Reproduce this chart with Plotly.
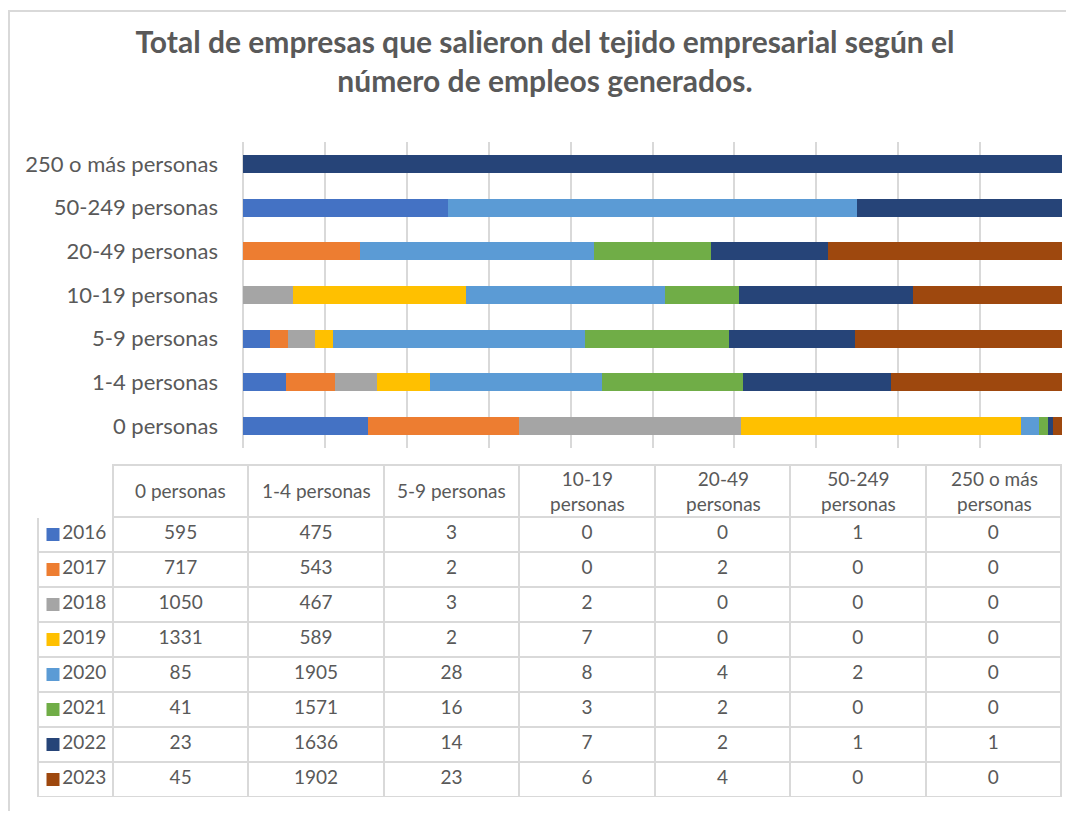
import plotly.graph_objects as go

# the page body adds an 8px margin, so reference pixels are mapped through fx/fy
W, H = 1058, 803


def fx(x):
    return (x - 8) / W


def fy(y):
    return 1 - (y - 8) / H


categories = ["0 personas", "1-4 personas", "5-9 personas", "10-19 personas",
              "20-49 personas", "50-249 personas", "250 o más personas"]
header_labels = ["0 personas", "1-4 personas", "5-9 personas", "10-19<br>personas",
                 "20-49<br>personas", "50-249<br>personas", "250 o más<br>personas"]
years = ["2016", "2017", "2018", "2019", "2020", "2021", "2022", "2023"]

v2016 = [595, 475, 3, 0, 0, 1, 0]
v2017 = [717, 543, 2, 0, 2, 0, 0]
v2018 = [1050, 467, 3, 2, 0, 0, 0]
v2019 = [1331, 589, 2, 7, 0, 0, 0]
v2020 = [85, 1905, 28, 8, 4, 2, 0]
v2021 = [41, 1571, 16, 3, 2, 0, 0]
v2022 = [23, 1636, 14, 7, 2, 1, 1]
v2023 = [45, 1902, 23, 6, 4, 0, 0]

series = [v2016, v2017, v2018, v2019, v2020, v2021, v2022, v2023]

COLORS = ["#4472C4", "#ED7D31", "#A5A5A5", "#FFC000",
          "#5B9BD5", "#70AD47", "#264478", "#9E480E"]

TEXT = "#595959"
GRID = "#D9D9D9"
FONT = "Lato, sans-serif"
CLEAR = "rgba(0,0,0,0)"

fig = go.Figure()

for year, vals, color in zip(years, series, COLORS):
    fig.add_trace(
        go.Bar(
            y=categories,
            x=vals,
            name=year,
            orientation="h",
            marker=dict(color=color, line=dict(width=0)),
            showlegend=False,
        )
    )

# data table under the chart (header texts are added as annotations so they sit centred)
columns = [[""] * len(years)] + [[s[i] for s in series] for i in range(len(categories))]

fig.add_trace(
    go.Table(
        domain=dict(x=[fx(38), fx(1062)], y=[fy(797), fy(465)]),
        columnwidth=[75] + [135.6] * 7,
        header=dict(
            values=[""] * (len(categories) + 1),
            height=52,
            fill_color=CLEAR,
            line=dict(color=["white"] + [GRID] * 7, width=2),
        ),
        cells=dict(
            values=columns,
            height=35,
            align="center",
            fill_color=CLEAR,
            line=dict(color=GRID, width=2),
            font=dict(family=FONT, size=19, color=TEXT),
        ),
    )
)

# legend keys in the first table column
fig.add_trace(
    go.Scatter(
        x=[0.2] * len(years),
        y=years,
        xaxis="x2",
        yaxis="y2",
        mode="markers+text",
        text=years,
        textposition="middle right",
        textfont=dict(family=FONT, size=19, color=TEXT),
        marker=dict(symbol="square", size=13, color=COLORS),
        showlegend=False,
        hoverinfo="skip",
    )
)

header_notes = [
    dict(
        x=label, y=fy(491), xref="x3", yref="paper",
        text=label, showarrow=False, xanchor="center", yanchor="middle",
        font=dict(family=FONT, size=19, color=TEXT),
    )
    for label in header_labels
]

fig.update_layout(
    width=W,
    height=H,
    barmode="stack",
    barnorm="percent",
    bargap=0.59,
    paper_bgcolor="white",
    plot_bgcolor=CLEAR,
    margin=dict(l=0, r=0, t=0, b=0),
    font=dict(family=FONT, size=22, color=TEXT),
    title=dict(
        text="<b>Total de empresas que salieron del tejido empresarial según el<br>número de empleos generados.</b>",
        x=fx(545),
        xanchor="center",
        y=fy(53),
        yanchor="top",
        font=dict(family=FONT, size=30, color=TEXT),
    ),
    xaxis=dict(
        domain=[fx(243), fx(1062)],
        range=[0, 100],
        dtick=10,
        showgrid=True,
        gridcolor=GRID,
        gridwidth=2,
        showticklabels=False,
        zeroline=True,
        zerolinecolor=GRID,
        zerolinewidth=2,
        fixedrange=True,
    ),
    yaxis=dict(
        domain=[fy(448), fy(142)],
        categoryorder="array",
        categoryarray=categories,
        ticks="",
        ticklabelstandoff=24,
        tickfont=dict(family=FONT, size=22, color=TEXT),
        showgrid=False,
        fixedrange=True,
    ),
    xaxis2=dict(
        domain=[fx(38), fx(113)],
        range=[0, 1],
        anchor="y2",
        visible=False,
        fixedrange=True,
    ),
    yaxis2=dict(
        domain=[fy(797), fy(517)],
        anchor="x2",
        type="category",
        categoryorder="array",
        categoryarray=years[::-1],
        range=[-0.5, len(years) - 0.5],
        visible=False,
        fixedrange=True,
    ),
    xaxis3=dict(
        domain=[fx(113), fx(1062)],
        type="category",
        categoryorder="array",
        categoryarray=header_labels,
        range=[-0.5, len(header_labels) - 0.5],
        anchor="y2",
        visible=False,
        fixedrange=True,
    ),
    annotations=header_notes,
    shapes=[
        dict(
            type="rect", xref="paper", yref="paper",
            x0=fx(9), x1=1.05, y0=-0.05, y1=fy(11),
            line=dict(color=GRID, width=2), fillcolor=CLEAR,
            layer="below",
        )
    ],
)

fig.write_html("out.html")
